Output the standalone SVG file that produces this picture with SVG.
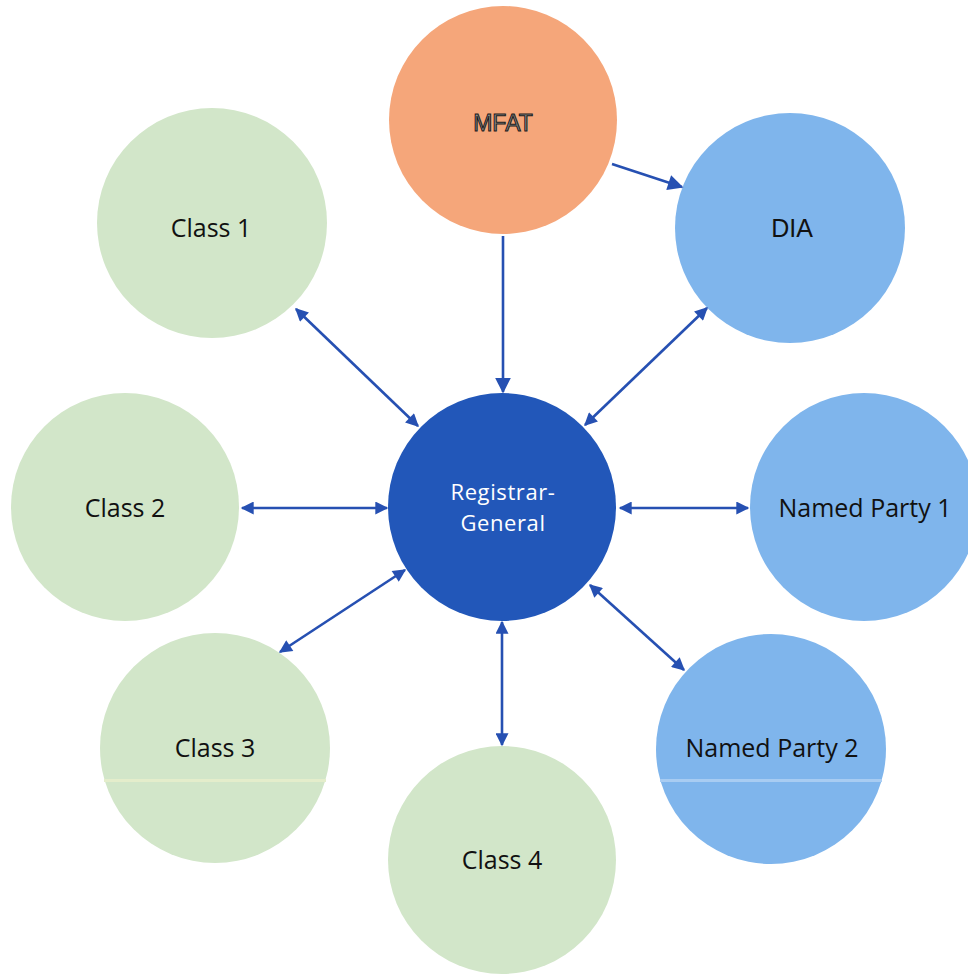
<svg xmlns="http://www.w3.org/2000/svg" width="968" height="974" viewBox="0 0 968 974">
<defs>
<style>
.green{fill:#d2e6c9}
.lblue{fill:#7fb5ec}
.orange{fill:#f5a67a}
.dblue{fill:#2257b9}
.lbl{font-family:"Open Sans","Liberation Sans",sans-serif;font-size:25px;fill:#111111;text-anchor:middle;dominant-baseline:central}
.arial{font-family:"Liberation Sans",Arial,sans-serif;text-anchor:middle;dominant-baseline:central}
.conn{stroke:#2650b2;stroke-width:2.6;fill:none}
</style>
<marker id="ah" viewBox="0 0 10 10" refX="9" refY="5" markerWidth="5.5" markerHeight="5" orient="auto-start-reverse" markerUnits="strokeWidth">
<path d="M0,0 L10,5 L0,10 z" fill="#2650b2"/>
</marker>
<marker id="ahb" viewBox="0 0 10 10" refX="9" refY="5" markerWidth="7" markerHeight="6" orient="auto" markerUnits="strokeWidth">
<path d="M0,0 L10,5 L0,10 z" fill="#2650b2"/>
</marker>
</defs>
<rect width="968" height="974" fill="#ffffff"/>
<g id="mfat"><circle class="orange" cx="503" cy="120" r="114"/><text class="arial" x="503" y="123" font-size="23" fill="#8c8c8c" stroke="#1a1a1a" stroke-width="1">MFAT</text></g>
<g id="class1"><circle class="green" cx="212" cy="223" r="115"/><text class="lbl" x="211" y="227">Class 1</text></g>
<g id="dia"><circle class="lblue" cx="790" cy="228" r="115"/><text class="arial" x="792" y="228" font-size="25" fill="#111111">DIA</text></g>
<g id="class2"><circle class="green" cx="125" cy="507" r="114"/><text class="lbl" x="125" y="507">Class 2</text></g>
<g id="registrar"><circle class="dblue" cx="502" cy="507" r="114"/><text class="lbl" x="503" y="491" style="fill:#ffffff;font-size:22px;letter-spacing:0.6px">Registrar-</text><text class="lbl" x="503" y="522" style="fill:#ffffff;font-size:22px;letter-spacing:0.6px">General</text></g>
<g id="np1"><circle class="lblue" cx="864" cy="507" r="114"/><text class="lbl" x="865" y="507">Named Party 1</text></g>
<g id="class3"><circle class="green" cx="215" cy="748" r="115"/><rect x="104" y="779" width="222" height="3" fill="#e4edcb"/><text class="lbl" x="215" y="747">Class 3</text></g>
<g id="class4"><circle class="green" cx="502" cy="860" r="114"/><text class="lbl" x="502" y="859">Class 4</text></g>
<g id="np2"><circle class="lblue" cx="771" cy="749" r="115"/><rect x="660" y="779" width="222" height="3" fill="#a8ccf2"/><text class="lbl" x="772" y="747">Named Party 2</text></g>
<g id="connectors">
<line class="conn" x1="612" y1="164" x2="682" y2="187" marker-end="url(#ahb)"/>
<line class="conn" x1="503" y1="236" x2="503" y2="392" marker-end="url(#ahb)"/>
<line class="conn" x1="296" y1="309" x2="418" y2="426" marker-start="url(#ah)" marker-end="url(#ah)"/>
<line class="conn" x1="707" y1="308" x2="585" y2="425" marker-start="url(#ah)" marker-end="url(#ah)"/>
<line class="conn" x1="242" y1="508" x2="387" y2="508" marker-start="url(#ah)" marker-end="url(#ah)"/>
<line class="conn" x1="620" y1="508" x2="748" y2="508" marker-start="url(#ah)" marker-end="url(#ah)"/>
<line class="conn" x1="280" y1="652" x2="405" y2="570" marker-start="url(#ah)" marker-end="url(#ah)"/>
<line class="conn" x1="502" y1="622" x2="502" y2="745" marker-start="url(#ah)" marker-end="url(#ah)"/>
<line class="conn" x1="590" y1="585" x2="684" y2="670" marker-start="url(#ah)" marker-end="url(#ah)"/>
</g>
</svg>
